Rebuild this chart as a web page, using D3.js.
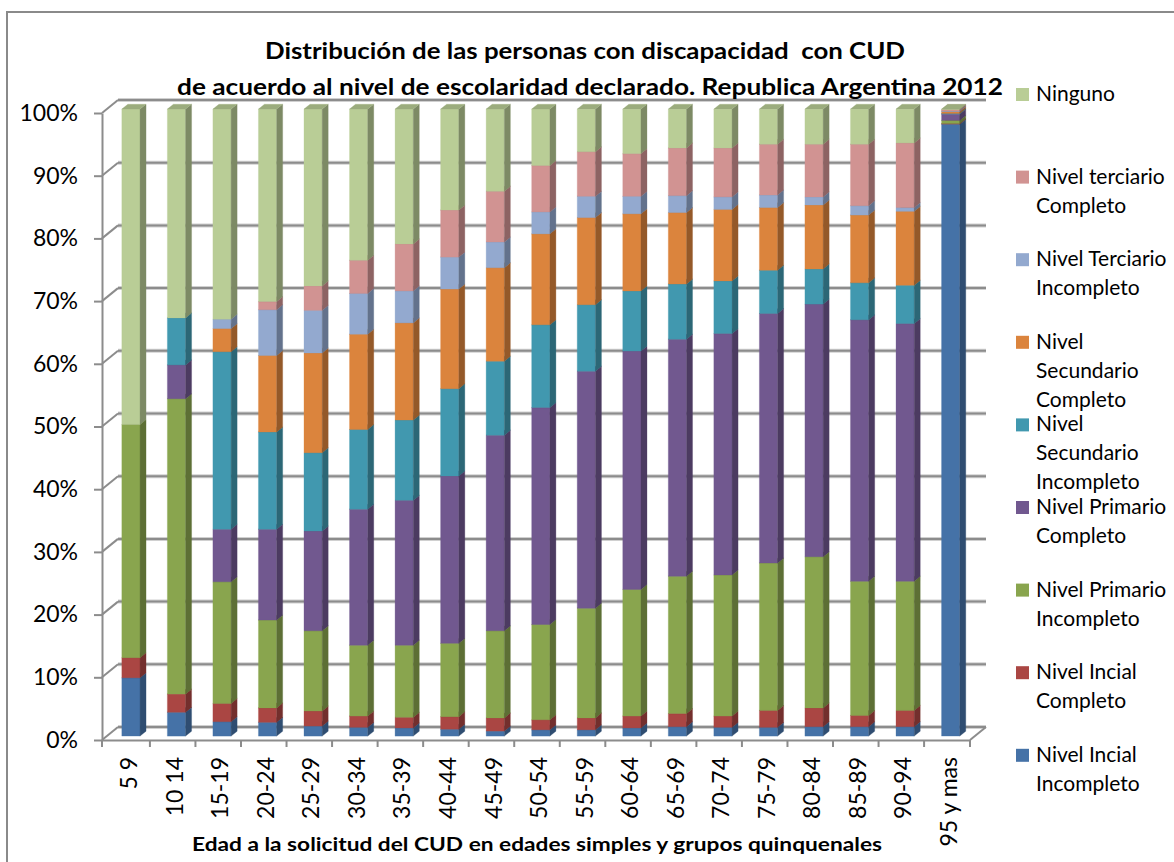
<!DOCTYPE html>
<html>
<head>
<meta charset="utf-8">
<script src="https://cdn.jsdelivr.net/npm/d3@7"></script>
<style>
  body { margin: 0; background: #fff; }
  svg { display: block; font-family: Lato, "Open Sans", sans-serif; }
</style>
</head>
<body>
<svg id="chart" width="1174" height="862"></svg>
<script>
// Data (percent of each age group, bottom of the stack first)
const categories = ["5 9", "10 14", "15-19", "20-24", "25-29", "30-34", "35-39", "40-44", "45-49",
  "50-54", "55-59", "60-64", "65-69", "70-74", "75-79", "80-84", "85-89", "90-94", "95 y mas"];

const seriesNames = ["Nivel Incial Incompleto", "Nivel Incial Completo", "Nivel Primario Incompleto",
  "Nivel Primario Completo", "Nivel Secundario Incompleto", "Nivel Secundario Completo",
  "Nivel Terciario Incompleto", "Nivel terciario Completo", "Ninguno"];

// legend text, wrapped as in the original
const legendLines = [
  ["Nivel Incial", "Incompleto"],
  ["Nivel Incial", "Completo"],
  ["Nivel Primario", "Incompleto"],
  ["Nivel Primario", "Completo"],
  ["Nivel", "Secundario", "Incompleto"],
  ["Nivel", "Secundario", "Completo"],
  ["Nivel Terciario", "Incompleto"],
  ["Nivel terciario", "Completo"],
  ["Ninguno"]
];

const seriesColors = ["#4572A7", "#AA4643", "#89A54E", "#71588F", "#4198AF", "#DB843D", "#93A9CF", "#D19392", "#B9CD96"];

const inicialIncompleto    = [9.3, 3.8, 2.3, 2.2, 1.6, 1.4, 1.3, 1.1, 0.8, 1.0, 1.0, 1.3, 1.5, 1.4, 1.4, 1.5, 1.5, 1.5, 97.6];
const inicialCompleto      = [3.2, 2.9, 2.9, 2.3, 2.4, 1.8, 1.7, 2.0, 2.1, 1.6, 1.9, 1.9, 2.1, 1.8, 2.7, 3.0, 1.8, 2.6, 0.1];
const primarioIncompleto   = [37.2, 47.1, 19.4, 14.0, 12.8, 11.3, 11.5, 11.7, 13.9, 15.2, 17.5, 20.2, 21.9, 22.5, 23.5, 24.1, 21.4, 20.6, 0.5];
const primarioCompleto     = [0, 5.4, 8.4, 14.5, 15.9, 21.7, 23.1, 26.7, 31.2, 34.6, 37.8, 38.0, 37.8, 38.5, 39.8, 40.3, 41.7, 41.1, 1.0];
const secundarioIncompleto = [0, 7.5, 28.3, 15.5, 12.5, 12.7, 12.8, 13.9, 11.8, 13.2, 10.6, 9.6, 8.8, 8.4, 6.9, 5.6, 5.9, 6.1, 0.1];
const secundarioCompleto   = [0, 0, 3.7, 12.2, 15.9, 15.2, 15.5, 15.9, 14.9, 14.5, 13.9, 12.3, 11.4, 11.4, 10.0, 10.2, 10.8, 11.8, 0.3];
const terciarioIncompleto  = [0, 0, 1.5, 7.3, 6.8, 6.5, 5.1, 5.1, 4.1, 3.5, 3.4, 2.8, 2.7, 2.0, 2.0, 1.3, 1.5, 0.6, 0.1];
const terciarioCompleto    = [0, 0, 0, 1.3, 3.9, 5.3, 7.5, 7.5, 8.1, 7.4, 7.1, 6.8, 7.6, 7.8, 8.1, 8.4, 9.8, 10.3, 0.2];
const ninguno              = [50.3, 33.3, 33.5, 30.7, 28.2, 24.1, 21.5, 16.1, 13.1, 9.0, 6.8, 7.1, 6.2, 6.2, 5.6, 5.6, 5.6, 5.4, 0.1];

const seriesValues = [inicialIncompleto, inicialCompleto, primarioIncompleto, primarioCompleto,
  secundarioIncompleto, secundarioCompleto, terciarioIncompleto, terciarioCompleto, ninguno];

const titleLines = ["Distribución de las personas con discapacidad  con CUD",
  "de acuerdo al nivel de escolaridad declarado. Republica Argentina 2012"];
const xTitle = "Edad a la solicitud del CUD en edades simples y grupos quinquenales";

// table for d3.stack
const rows = categories.map((c, i) => {
  const r = { cat: c };
  seriesNames.forEach((s, k) => { r[s] = seriesValues[k][i]; });
  return r;
});

const stacked = d3.stack().keys(seriesNames).offset(d3.stackOffsetExpand)(rows);

// Layout (front plane of the 3D box, depth is a skew up-right)
const frontLeft = 102, frontRight = 970, frontBottom = 740, frontTop = 113;
const depthX = 16, depthY = -13;
const barT0 = 0.3, barT1 = 0.675;

const proj = (px, py, t) => [px + depthX * t, py + depthY * t];

const x = d3.scaleBand().domain(categories).range([frontLeft, frontRight])
  .paddingInner(0.6).paddingOuter(0.33);
const y = d3.scaleLinear().domain([0, 1]).range([frontBottom, frontTop]);

const svg = d3.select("#chart");

// outer chart border
svg.append("rect").attr("x", 7).attr("y", 12).attr("width", 1300).attr("height", 1000)
  .attr("fill", "none").attr("stroke", "#8a8a8a").attr("stroke-width", 2);

// Walls: gridlines on back wall + side wall
const yTicks = y.ticks(10);
const grid = svg.append("g");
yTicks.forEach(v => {
  const a = proj(frontLeft, y(v), 1), b = proj(frontRight, y(v), 1);
  grid.append("line").attr("x1", a[0]).attr("y1", a[1]).attr("x2", b[0]).attr("y2", b[1])
    .attr("stroke", "#d0d0d0").attr("stroke-width", 4);
  grid.append("line").attr("x1", a[0]).attr("y1", a[1]).attr("x2", b[0]).attr("y2", b[1])
    .attr("stroke", "#8c8c8c").attr("stroke-width", 2);
  grid.append("line").attr("x1", frontLeft).attr("y1", y(v)).attr("x2", a[0]).attr("y2", a[1])
    .attr("stroke", "#8c8c8c").attr("stroke-width", 2);
});

// floor right edge
const fr = proj(frontRight, frontBottom, 1);
svg.append("line").attr("x1", frontRight).attr("y1", frontBottom).attr("x2", fr[0]).attr("y2", fr[1])
  .attr("stroke", "#8c8c8c").attr("stroke-width", 2);

// Bars
const poly = pts => pts.map(p => p.join(",")).join(" ");
const bars = svg.append("g");
stacked.forEach((s, k) => {
  const base = d3.rgb(seriesColors[k]);
  const side = base.darker(1.1).formatHex();
  const top = base.darker(0.5).formatHex();
  const g = bars.append("g");
  s.forEach(d => {
    if (d[1] - d[0] < 1e-6) return;
    const x0 = x(d.data.cat), x1 = x0 + x.bandwidth();
    const yb = y(d[0]), yt = y(d[1]);
    g.append("polygon")
      .attr("points", poly([proj(x0, yt, barT0), proj(x1, yt, barT0), proj(x1, yb, barT0), proj(x0, yb, barT0)]))
      .attr("fill", base.formatHex()).attr("stroke", base.formatHex()).attr("stroke-width", 0.3);
    g.append("polygon")
      .attr("points", poly([proj(x1, yt, barT0), proj(x1, yt, barT1), proj(x1, yb, barT1), proj(x1, yb, barT0)]))
      .attr("fill", side).attr("stroke", side).attr("stroke-width", 0.3);
    g.append("polygon")
      .attr("points", poly([proj(x0, yt, barT0), proj(x0, yt, barT1), proj(x1, yt, barT1), proj(x1, yt, barT0)]))
      .attr("fill", top).attr("stroke", top).attr("stroke-width", 0.3);
  });
});

// Y axis (front left edge)
const yAxis = svg.append("g").attr("transform", `translate(${frontLeft},0)`)
  .call(d3.axisLeft(y).ticks(10).tickFormat(d3.format(".0%")).tickSize(8).tickSizeOuter(0).tickPadding(16));
yAxis.select(".domain").attr("stroke", "#8c8c8c").attr("stroke-width", 2);
yAxis.selectAll(".tick line").attr("stroke", "#8c8c8c").attr("stroke-width", 2);
yAxis.selectAll(".tick text").attr("font-size", 23).attr("font-family", "Lato, sans-serif").attr("fill", "#000");

// X axis (front floor edge)
const xAxis = svg.append("g").attr("transform", `translate(0,${frontBottom})`)
  .call(d3.axisBottom(x).tickSize(0).tickSizeOuter(0));
xAxis.select(".domain").attr("stroke", "#8c8c8c").attr("stroke-width", 2);
xAxis.selectAll(".tick text")
  .attr("font-size", 23).attr("font-family", "Lato, sans-serif").attr("fill", "#000")
  .attr("text-anchor", "end")
  .attr("transform", "rotate(-90)")
  .attr("x", -17).attr("y", 3).attr("dy", "0.35em");

// tick marks at category boundaries
const centers = categories.map(c => x(c) + x.bandwidth() / 2);
const bounds = [frontLeft].concat(d3.pairs(centers).map(([a, b]) => (a + b) / 2 + 1), [frontRight]);
svg.append("g").selectAll("line").data(bounds).join("line")
  .attr("x1", d => d).attr("x2", d => d).attr("y1", frontBottom).attr("y2", frontBottom + 7)
  .attr("stroke", "#8c8c8c").attr("stroke-width", 2);

// Titles
svg.append("text").attr("x", 585).attr("y", 59).attr("text-anchor", "middle")
  .attr("font-size", 23).attr("font-weight", "bold")
  .attr("textLength", 640).attr("lengthAdjust", "spacingAndGlyphs")
  .style("white-space", "pre").text(titleLines[0]);
svg.append("text").attr("x", 590).attr("y", 95).attr("text-anchor", "middle")
  .attr("font-size", 23).attr("font-weight", "bold")
  .attr("textLength", 826).attr("lengthAdjust", "spacingAndGlyphs")
  .text(titleLines[1]);

svg.append("text").attr("x", 537).attr("y", 851).attr("text-anchor", "middle")
  .attr("font-size", 18).attr("font-weight", "bold")
  .attr("textLength", 690).attr("lengthAdjust", "spacingAndGlyphs")
  .text(xTitle);

// Legend (top entry = top of stack)
const legend = svg.append("g");
const order = d3.range(seriesNames.length).reverse();
order.forEach((k, i) => {
  const by = 101 + i * 82.6;
  legend.append("rect").attr("x", 1016).attr("y", by - 13).attr("width", 13).attr("height", 13)
    .attr("fill", seriesColors[k]);
  const t = legend.append("text").attr("x", 1036).attr("y", by).attr("font-size", 21).attr("fill", "#000");
  legendLines[k].forEach((ln, j) => {
    t.append("tspan").attr("x", 1036).attr("y", by + j * 29).text(ln);
  });
});
</script>
</body>
</html>
